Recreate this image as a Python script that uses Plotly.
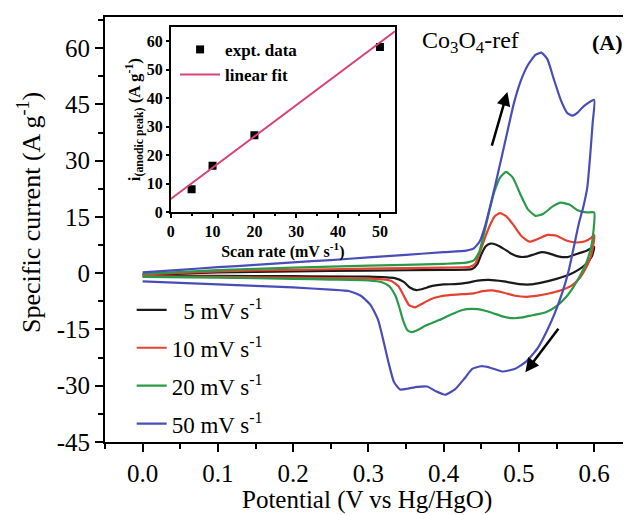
import plotly.graph_objects as go

# ---------------- data ----------------
series_names = ["\u00a0\u00a05 mV s<sup>-1</sup>", "10 mV s<sup>-1</sup>", "20 mV s<sup>-1</sup>", "50 mV s<sup>-1</sup>"]
series_colors = ["#1a1a1a", "#e4412f", "#2a9a48", "#4a4db8"]

# 5 mV/s
e5_fwd = [0.0, 0.1, 0.2, 0.3, 0.4, 0.438, 0.445, 0.45, 0.456, 0.462, 0.47, 0.48, 0.49, 0.5, 0.51, 0.52, 0.53, 0.54, 0.552, 0.565, 0.578, 0.59, 0.6]
i5_fwd = [-0.4, 0.2, 0.5, 0.7, 0.9, 1.1, 2.5, 5.0, 7.2, 7.9, 7.6, 6.5, 5.2, 4.4, 4.4, 5.0, 5.6, 5.3, 4.5, 4.3, 5.2, 6.0, 7.0]
e5_rev = [0.597, 0.59, 0.58, 0.568, 0.55, 0.53, 0.515, 0.5, 0.48, 0.46, 0.445, 0.43, 0.415, 0.4, 0.385, 0.372, 0.364, 0.355, 0.347, 0.335, 0.3, 0.2, 0.1, 0.0]
i5_rev = [4.5, 2.6, 1.0, -0.3, -1.5, -2.5, -3.0, -2.9, -2.2, -1.8, -2.0, -2.6, -2.9, -3.0, -3.4, -4.2, -4.5, -3.8, -2.3, -1.3, -0.9, -0.8, -0.7, -0.6]

# 10 mV/s
e10_fwd = [0.0, 0.1, 0.2, 0.3, 0.4, 0.435, 0.442, 0.448, 0.455, 0.462, 0.468, 0.475, 0.483, 0.493, 0.503, 0.514, 0.526, 0.538, 0.55, 0.562, 0.575, 0.588, 0.596, 0.6]
i10_fwd = [-0.3, 0.5, 0.9, 1.2, 1.5, 1.7, 2.5, 5.5, 9.5, 13.0, 15.2, 16.0, 15.2, 12.8, 10.0, 8.4, 9.2, 10.2, 10.0, 8.8, 8.2, 8.5, 9.4, 10.2]
e10_rev = [0.598, 0.594, 0.588, 0.58, 0.57, 0.555, 0.54, 0.525, 0.51, 0.495, 0.48, 0.465, 0.452, 0.44, 0.425, 0.41, 0.395, 0.382, 0.37, 0.362, 0.354, 0.347, 0.34, 0.33, 0.31, 0.25, 0.15, 0.05, 0.0]
i10_rev = [6.5, 3.5, 1.0, -1.5, -3.3, -4.6, -5.4, -6.0, -6.3, -6.0, -5.2, -4.6, -4.8, -5.4, -5.6, -5.8, -6.2, -7.0, -8.3, -9.1, -8.5, -6.0, -3.5, -2.0, -1.5, -1.3, -1.1, -0.9, -0.8]

# 20 mV/s
e20_fwd = [0.0, 0.1, 0.2, 0.3, 0.4, 0.43, 0.44, 0.447, 0.453, 0.46, 0.467, 0.475, 0.483, 0.492, 0.502, 0.512, 0.522, 0.532, 0.545, 0.556, 0.567, 0.578, 0.59, 0.6]
i20_fwd = [-0.2, 0.8, 1.5, 2.0, 2.5, 2.8, 3.4, 5.5, 10.0, 16.0, 21.5, 25.5, 27.0, 25.5, 21.0, 17.0, 15.3, 15.8, 17.8, 18.8, 18.3, 16.8, 16.2, 16.2]
e20_rev = [0.599, 0.596, 0.59, 0.583, 0.573, 0.563, 0.55, 0.535, 0.518, 0.505, 0.492, 0.478, 0.465, 0.455, 0.445, 0.437, 0.425, 0.41, 0.394, 0.377, 0.365, 0.358, 0.352, 0.346, 0.341, 0.336, 0.328, 0.318, 0.3, 0.25, 0.2, 0.1, 0.0]
i20_rev = [11.0, 7.0, 3.0, 0.0, -3.5, -6.3, -8.8, -10.5, -11.2, -11.8, -12.0, -11.5, -10.6, -10.0, -9.6, -9.5, -9.8, -11.0, -12.5, -13.9, -15.2, -15.7, -15.2, -12.5, -9.0, -6.0, -3.5, -2.4, -1.9, -1.7, -1.5, -1.2, -1.0]

# 50 mV/s
e50_fwd = [0.0, 0.05, 0.1, 0.15, 0.2, 0.25, 0.3, 0.35, 0.4, 0.43, 0.44, 0.448, 0.455, 0.462, 0.468, 0.476, 0.485, 0.493, 0.502, 0.512, 0.522, 0.53, 0.538, 0.546, 0.556, 0.564, 0.571, 0.578, 0.586, 0.6]
i50_fwd = [0.2, 0.9, 1.6, 2.2, 2.9, 3.5, 4.2, 4.9, 5.6, 6.0, 6.6, 8.5, 12.5, 18.0, 23.0, 30.0, 38.0, 45.0, 51.0, 55.5, 58.2, 58.8, 57.0, 52.0, 46.0, 42.8, 42.0, 42.8, 44.5, 46.2]
e50_rev = [0.598, 0.595, 0.591, 0.586, 0.58, 0.573, 0.566, 0.558, 0.548, 0.537, 0.525, 0.51, 0.495, 0.478, 0.462, 0.45, 0.438, 0.428, 0.415, 0.402, 0.39, 0.378, 0.365, 0.352, 0.342, 0.334, 0.327, 0.32, 0.313, 0.303, 0.29, 0.275, 0.25, 0.2, 0.15, 0.1, 0.05, 0.0]
i50_rev = [40.0, 32.0, 23.0, 18.0, 13.5, 7.0, 0.5, -5.0, -10.5, -15.5, -20.0, -23.5, -25.5, -26.2, -25.2, -24.8, -25.5, -28.0, -31.0, -32.4, -31.5, -30.2, -30.3, -30.8, -31.0, -29.0, -24.0, -18.0, -12.5, -8.5, -6.0, -4.8, -4.4, -3.8, -3.4, -3.0, -2.6, -2.2]

# inset data
scan_rates = [5, 10, 20, 50]
peak_currents = [8.0, 16.3, 27.0, 58.0]
fit_rates = [0, 53.6]
fit_currents = [4.6, 63.6]

# tick labels
x_ticks = [0.0, 0.1, 0.2, 0.3, 0.4, 0.5, 0.6]
x_tick_labels = ["0.0", "0.1", "0.2", "0.3", "0.4", "0.5", "0.6"]
y_ticks = [-45, -30, -15, 0, 15, 30, 45, 60]
y_tick_labels = ["-45", "-30", "-15", "0", "15", "30", "45", "60"]
inset_x_ticks = [0, 10, 20, 30, 40, 50]
inset_y_ticks = [0, 10, 20, 30, 40, 50, 60]

# ---------------- figure ----------------
FONT = "Liberation Serif"
fig = go.Figure()

loops = [
    (e5_fwd, i5_fwd, e5_rev, i5_rev),
    (e10_fwd, i10_fwd, e10_rev, i10_rev),
    (e20_fwd, i20_fwd, e20_rev, i20_rev),
    (e50_fwd, i50_fwd, e50_rev, i50_rev),
]
for k, (ef, i_f, er, i_r) in enumerate(loops):
    fig.add_trace(go.Scatter(
        x=ef + er, y=i_f + i_r, mode="lines", name=series_names[k],
        line=dict(color=series_colors[k], width=2.2, shape="spline", smoothing=0.5),
        legendgroup="g%d" % k, legend="legend", xaxis="x", yaxis="y",
    ))

fig.add_trace(go.Scatter(
    x=scan_rates, y=peak_currents, mode="markers", name="expt. data",
    marker=dict(symbol="square", size=8, color="black"),
    xaxis="x2", yaxis="y2", legend="legend2",
))
fig.add_trace(go.Scatter(
    x=fit_rates, y=fit_currents, mode="lines", name="linear fit",
    line=dict(color="#d94376", width=2),
    xaxis="x2", yaxis="y2", legend="legend2",
))

axis_common = dict(showline=True, linecolor="black", mirror=True, showgrid=False,
                   zeroline=False, ticks="outside", tickcolor="black")

fig.update_layout(
    width=631, height=515,
    # the page body adds an 8px offset, so margins are shifted to compensate
    margin=dict(l=97, r=11, t=9, b=81, autoexpand=False),
    paper_bgcolor="white", plot_bgcolor="white",
    font=dict(family=FONT, color="black"),
    xaxis=dict(**axis_common, range=[-0.05, 0.645], tickvals=x_ticks, ticktext=x_tick_labels,
               ticklen=8, tickwidth=2, linewidth=2,
               minor=dict(dtick=0.05, tick0=0, ticks="outside", ticklen=5, tickwidth=2, tickcolor="black"),
               tickfont=dict(size=25, family=FONT),
               domain=[0, 1], anchor="y"),
    yaxis=dict(**axis_common, range=[-45, 68.3], tickvals=y_ticks, ticktext=y_tick_labels,
               ticklen=8, tickwidth=2, linewidth=2,
               minor=dict(dtick=7.5, tick0=0, ticks="outside", ticklen=5, tickwidth=2, tickcolor="black"),
               tickfont=dict(size=25, family=FONT),
               domain=[0, 1], anchor="x"),
    xaxis2=dict(**axis_common, domain=[0.1256, 0.5545], anchor="y2", range=[0, 53.6],
                tickvals=inset_x_ticks, ticklen=4, tickwidth=1.5, linewidth=1.5,
                minor=dict(dtick=5, tick0=0, ticks="outside", ticklen=2, tickwidth=1.5, tickcolor="black"),
                tickfont=dict(size=16, family=FONT, weight="bold"),
                title=dict(text="Scan rate (mV s<sup>-1</sup>)", font=dict(size=16, family=FONT, weight="bold"), standoff=0)),
    yaxis2=dict(**axis_common, domain=[0.541, 0.976], anchor="x2", range=[0, 65],
                tickvals=inset_y_ticks, ticklen=3, tickwidth=1.5, linewidth=1.5,
                tickfont=dict(size=16, family=FONT, weight="bold"),
                title=dict(text="i<sub>(anodic peak)</sub> (A g<sup>-1</sup>)", font=dict(size=17, family=FONT, weight="bold"), standoff=2)),
    legend=dict(x=0.051, y=-0.008, xanchor="left", yanchor="bottom", bgcolor="rgba(0,0,0,0)",
                font=dict(size=23, family=FONT), tracegroupgap=5, itemwidth=30),
    legend2=dict(x=0.134, y=0.965, xanchor="left", yanchor="top", bgcolor="rgba(0,0,0,0)",
                 font=dict(size=17, family=FONT, weight="bold"), itemwidth=40),
    showlegend=True,
)

# axis titles
fig.add_annotation(text="Potential (V vs Hg/HgO)",
                   xref="paper", yref="paper", x=0.5, y=-0.136,
                   xanchor="center", yanchor="middle", showarrow=False,
                   font=dict(size=25, family=FONT))
fig.add_annotation(text="Specific current (A g<sup>-1</sup>)", textangle=-90,
                   xref="paper", yref="paper", x=-0.1434, y=0.539,
                   xanchor="center", yanchor="middle", showarrow=False,
                   font=dict(size=26, family=FONT))
fig.add_annotation(text="Co<sub>3</sub>O<sub>4</sub>-ref", xref="paper", yref="paper",
                   x=0.698, y=0.941, xanchor="center", yanchor="middle", showarrow=False,
                   font=dict(size=24, family=FONT))
fig.add_annotation(text="<b>(A)</b>", xref="paper", yref="paper",
                   x=0.96, y=0.941, xanchor="center", yanchor="middle", showarrow=False,
                   font=dict(size=22, family=FONT))
# sweep-direction arrows
fig.add_annotation(x=0.4847, y=48.3, ax=0.4635, ay=33.6, xref="x", yref="y", axref="x", ayref="y",
                   text="", showarrow=True, arrowhead=2, arrowsize=1.1, arrowwidth=2.5, arrowcolor="black")
fig.add_annotation(x=0.5086, y=-26.4, ax=0.554, ay=-14.4, xref="x", yref="y", axref="x", ayref="y",
                   text="", showarrow=True, arrowhead=2, arrowsize=1.1, arrowwidth=2.5, arrowcolor="black")

fig.write_html("out.html")
